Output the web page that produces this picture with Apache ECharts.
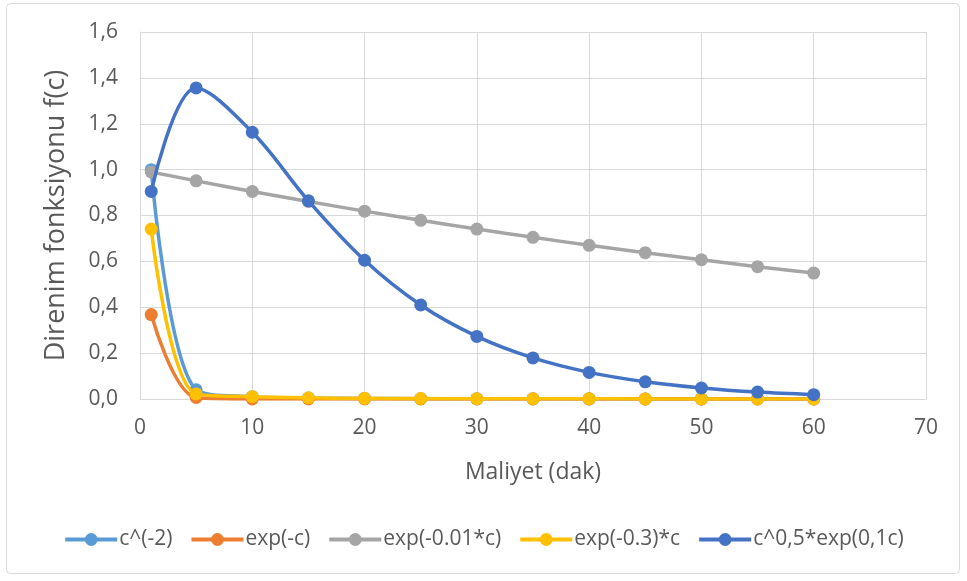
<!DOCTYPE html>
<html>
<head>
<meta charset="utf-8">
<script src="https://cdn.jsdelivr.net/npm/echarts@6/dist/echarts.min.js"></script>
<style>
  html, body { margin: 0; padding: 0; background: #ffffff; }
  #chart { width: 967px; height: 581px; }
</style>
</head>
<body>
<div id="chart"></div>
<script>
// Cost values (minutes) on the x axis
const costs = [1, 5, 10, 15, 20, 25, 30, 35, 40, 45, 50, 55, 60];

// Resistance function values per series
const powerMinus2 = [1.0, 0.04, 0.01, 0.0044, 0.0025, 0.0016, 0.0011, 0.0008, 0.0006, 0.0005, 0.0004, 0.0003, 0.0003];
const expMinusC = [0.368, 0.0067, 0.0001, 0, 0, 0, 0, 0, 0, 0, 0, 0, 0];
const expMinus001C = [0.990, 0.951, 0.905, 0.861, 0.819, 0.779, 0.741, 0.705, 0.670, 0.638, 0.607, 0.577, 0.549];
const expMinus03C = [0.741, 0.022, 0.010, 0.005, 0.003, 0.002, 0.001, 0.001, 0.001, 0.0005, 0.0005, 0.0003, 0.0003];
const sqrtExp = [0.905, 1.356, 1.163, 0.864, 0.605, 0.410, 0.273, 0.179, 0.116, 0.075, 0.048, 0.030, 0.019];

const seriesNames = ['c^(-2)', 'exp(-c)', 'exp(-0.01*c)', 'exp(-0.3)*c', 'c^0,5*exp(0,1c)'];
const seriesColors = ['#5b9bd5', '#ed7d31', '#a5a5a5', '#ffc000', '#4472c4'];
const seriesValues = [powerMinus2, expMinusC, expMinus001C, expMinus03C, sqrtExp];

const FONT = '"Open Sans", Lato, sans-serif';
const TEXT = '#595959';
const GRID = '#d9d9d9';

const chart = echarts.init(document.getElementById('chart'));

const series = seriesNames.map((name, i) => ({
  name: name,
  type: 'line',
  smooth: 0.35,
  symbol: 'circle',
  symbolSize: 13,
  data: costs.map((c, j) => [c, seriesValues[i][j]]),
  lineStyle: { width: 3.5, color: seriesColors[i] },
  itemStyle: { color: seriesColors[i] },
  z: 2 + i
}));

chart.setOption({
  animation: false,
  backgroundColor: '#ffffff',
  graphic: [{
    type: 'rect',
    shape: { x: 6.5, y: 3.5, width: 953, height: 570, r: 4 },
    style: { fill: 'none', stroke: GRID, lineWidth: 1 },
    silent: true,
    z: -10
  }],
  grid: { left: 140, right: 41, top: 32, bottom: 182, containLabel: false },
  legend: {
    top: 524,
    left: 'center',
    itemWidth: 52,
    itemHeight: 16,
    itemGap: 17,
    lineStyle: { width: 4 },
    textStyle: { fontFamily: FONT, fontSize: 21, color: TEXT, padding: [0, 0, 0, -3] },
    data: seriesNames
  },
  xAxis: {
    type: 'value',
    min: 0,
    max: 70,
    interval: 10,
    name: 'Maliyet (dak)',
    nameLocation: 'middle',
    nameGap: 62,
    nameTextStyle: { fontFamily: FONT, fontSize: 23, color: TEXT },
    axisLine: { show: true, lineStyle: { color: GRID } },
    axisTick: { show: false },
    axisLabel: { fontFamily: FONT, fontSize: 21, color: TEXT, margin: 19 },
    splitLine: { show: true, lineStyle: { color: GRID, width: 1 } }
  },
  yAxis: {
    type: 'value',
    min: 0,
    max: 1.6,
    interval: 0.2,
    name: 'Direnim fonksiyonu f(c)',
    nameLocation: 'middle',
    nameGap: 70,
    nameRotate: 90,
    nameTextStyle: { fontFamily: FONT, fontSize: 27, color: TEXT },
    axisLine: { show: true, lineStyle: { color: GRID } },
    axisTick: { show: false },
    axisLabel: {
      fontFamily: FONT, fontSize: 21, color: TEXT, margin: 22,
      formatter: v => v.toFixed(1).replace('.', ',')
    },
    splitLine: { show: true, lineStyle: { color: GRID, width: 1 } }
  },
  series: series
});
</script>
</body>
</html>
